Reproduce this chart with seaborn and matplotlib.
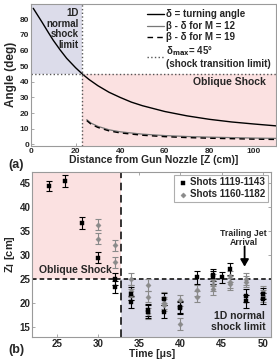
import numpy as np
import pandas as pd
import seaborn as sns
import matplotlib.pyplot as plt

# (a) angle curves
z_delta = [1, 3, 5, 8, 10, 13, 16, 20, 23, 26, 30, 35, 40, 45, 50, 60, 70, 80, 90, 100, 110]
delta = [87, 82.5, 78, 71, 66.5, 60.5, 55, 49, 45, 41.5, 37.5, 33.3, 30, 27, 24.7, 21, 18.2, 16, 14.3, 13, 11.8]
z_beta = [25, 27, 30, 35, 40, 50, 60, 70, 80, 90, 100, 110]
beta_m12 = [15.8, 13.5, 11.5, 9.3, 8.0, 6.5, 5.6, 5.0, 4.6, 4.3, 4.0, 3.8]
beta_m19 = [15.2, 12.8, 10.8, 8.6, 7.3, 5.8, 4.9, 4.3, 3.9, 3.6, 3.3, 3.1]
z_limit = 23
delta_max = 45

# (b) interface position vs time
t1 = [24, 26, 28, 30, 32, 32, 34, 34, 36, 36, 38, 38, 40, 40, 42, 44, 44, 45, 46, 48, 48, 50, 50]
zi1 = [44.3, 45.3, 36.7, 29.5, 25.0, 23.4, 22.0, 20.3, 18.6, 18.3, 20.9, 18.3, 19.2, 19.0,
       25.4, 25.9, 25.4, 25.4, 27.1, 21.6, 20.4, 22.0, 21.0]
err1 = [1.1, 1.2, 1.2, 1.2, 1.3, 1.3, 1.3, 1.3, 1.3, 1.3, 1.3, 1.3, 1.3, 1.3,
        1.3, 1.3, 1.3, 1.2, 1.3, 1.3, 1.3, 1.2, 1.2]
t2 = [30, 30, 32, 32, 34, 34, 34, 36, 36, 36, 38, 38, 38, 40, 40, 42, 42, 44, 44, 44, 46, 46, 46, 48, 48, 50, 50]
zi2 = [36.3, 33.4, 32.0, 28.5, 25.0, 22.6, 21.8, 23.8, 21.4, 17.9, 21.2, 20.1, 19.6, 20.6, 15.7,
       22.7, 21.4, 24.8, 23.8, 22.9, 25.6, 24.4, 24.0, 25.1, 24.5, 22.4, 21.5]
err2 = [1.2] * len(t2)
t_transition = 32.8
zi_limit = 25

sns.set_style("ticks")
plt.rcParams['font.family'] = ['Liberation Sans', 'DejaVu Sans']
plt.rcParams['font.weight'] = 'bold'
plt.rcParams['axes.labelweight'] = 'bold'
plt.rcParams['font.size'] = 7

pink = '#fbe1e1'
blue = '#dcdcea'
spine = '#9a9a9a'

fig = plt.figure(figsize=(2.77, 3.62), dpi=100)
ax1 = fig.add_axes([0.112, 0.597, 0.885, 0.393])
ax2 = fig.add_axes([0.117, 0.070, 0.861, 0.456])

# ---- panel (a)
ax1.set_xlim(0, 110)
ax1.set_ylim(-1, 90)
ax1.axvspan(0, z_limit, ymin=(delta_max + 1) / 91, ymax=1, color=blue, lw=0)
ax1.axvspan(z_limit, 110, ymin=0, ymax=(delta_max + 1) / 91, color=pink, lw=0)

sns.lineplot(x=z_delta, y=delta, ax=ax1, color='black', lw=1.0, label='δ = turning angle')
sns.lineplot(x=z_beta, y=beta_m12, ax=ax1, color='#777777', lw=0.9, label='β - δ for M = 12')
sns.lineplot(x=z_beta, y=beta_m19, ax=ax1, color='black', lw=1.0, ls=(0, (4, 3)),
             label='β - δ for M = 19')
ax1.axhline(delta_max, color='#555555', lw=1.0, ls=':',
            label='δ$_{\\mathbf{max}}$= 45°\n(shock transition limit)')
ax1.axvline(z_limit, color='#555555', lw=1.0, ls=':')

ax1.text(21.5, 87, '1D\nnormal\nshock\nlimit', ha='right', va='top', fontsize=7,
         fontweight='bold', linespacing=1.05)
ax1.text(105.5, 40, 'Oblique Shock', ha='right', va='center', fontsize=7.5, fontweight='bold')

leg = ax1.legend(loc='upper right', frameon=False, fontsize=7, handlelength=1.7,
                 handletextpad=0.2, labelspacing=0.15, borderaxespad=0.2,
                 bbox_to_anchor=(1.0, 1.0))
for txt in leg.get_texts():
    txt.set_fontweight('bold')

ax1.set_xticks([0, 20, 40, 60, 80, 100])
ax1.set_yticks([0, 10, 20, 30, 40, 50, 60, 70, 80])
ax1.set_xlabel('Distance from Gun Nozzle [Z (cm)]', fontsize=7.5, labelpad=0)
ax1.set_ylabel('Angle (deg)', fontsize=8.5, labelpad=2)
ax1.tick_params(labelsize=6, length=2, width=0.6, color=spine, pad=1.5, direction='in')
for s in ax1.spines.values():
    s.set_color(spine)
    s.set_linewidth(0.8)
fig.text(0.03, 0.545, '(a)', fontsize=9, fontweight='bold', va='center')

# ---- panel (b)
ax2.set_xlim(22, 51)
ax2.set_ylim(13.1, 47.3)
ax2.axvspan(22, t_transition, ymin=(zi_limit - 13.1) / 34.2, ymax=1, color=pink, lw=0)
ax2.axvspan(t_transition, 51, ymin=0, ymax=(zi_limit - 13.1) / 34.2, color=blue, lw=0)
ax2.axhline(zi_limit, color='black', lw=1.1, ls=(0, (3, 2)))
ax2.axvline(t_transition, color='black', lw=1.1, ls=(0, (5, 3)))

df1 = pd.DataFrame({'t': t1, 'z': zi1, 'e': err1})
df2 = pd.DataFrame({'t': t2, 'z': zi2, 'e': err2})
ax2.errorbar(df2['t'], df2['z'], yerr=df2['e'], fmt='none', ecolor='#8a8a8a',
             elinewidth=0.8, capsize=2, capthick=0.8)
ax2.errorbar(df1['t'], df1['z'], yerr=df1['e'], fmt='none', ecolor='black',
             elinewidth=0.8, capsize=2, capthick=0.8)
sns.scatterplot(data=df1, x='t', y='z', ax=ax2, marker='s', s=11, color='black',
                edgecolor='black', linewidth=0.3, label='Shots 1119-1143', zorder=5)
sns.scatterplot(data=df2, x='t', y='z', ax=ax2, marker='D', s=7, color='#8a8a8a',
                edgecolor='#8a8a8a', linewidth=0.3, label='Shots 1160-1182', zorder=4)

ax2.text(22.8, 26.9, 'Oblique Shock', ha='left', va='center', fontsize=7.5, fontweight='bold')
ax2.text(50.3, 16.3, '1D normal\nshock limit', ha='right', va='center', fontsize=7.5,
         fontweight='bold', linespacing=1.1)
ax2.text(47.7, 33.5, 'Trailing Jet\nArrival', ha='center', va='center', fontsize=6.3,
         fontweight='bold', linespacing=1.05)
ax2.annotate('', xy=(47.8, 27.6), xytext=(47.8, 31.8),
             arrowprops=dict(arrowstyle='-|>,head_width=0.35,head_length=0.6',
                             color='black', lw=1.3, shrinkA=0, shrinkB=0))

leg2 = ax2.legend(loc='upper right', fontsize=7, frameon=True, fancybox=False,
                  edgecolor=spine, handletextpad=0.1, labelspacing=0.2, borderpad=0.3,
                  borderaxespad=0.3, handlelength=1.2)
leg2.get_frame().set_linewidth(0.8)
for txt in leg2.get_texts():
    txt.set_fontweight('bold')

ax2.set_xticks([25, 30, 35, 40, 45, 50])
ax2.set_yticks([15, 20, 25, 30, 35, 40, 45])
ax2.set_xlabel('Time [μs]', fontsize=7.5, labelpad=0)
ax2.set_ylabel('Z$_\\mathbf{I}$ [cm]', fontsize=8, labelpad=2)
ax2.tick_params(labelsize=7, length=2, width=0.6, color=spine, pad=1.5, direction='in',
                right=True, top=True)
for s in ax2.spines.values():
    s.set_color(spine)
    s.set_linewidth(0.8)
fig.text(0.03, 0.033, '(b)', fontsize=9, fontweight='bold', va='center')

fig.savefig('out.png', dpi=100)
